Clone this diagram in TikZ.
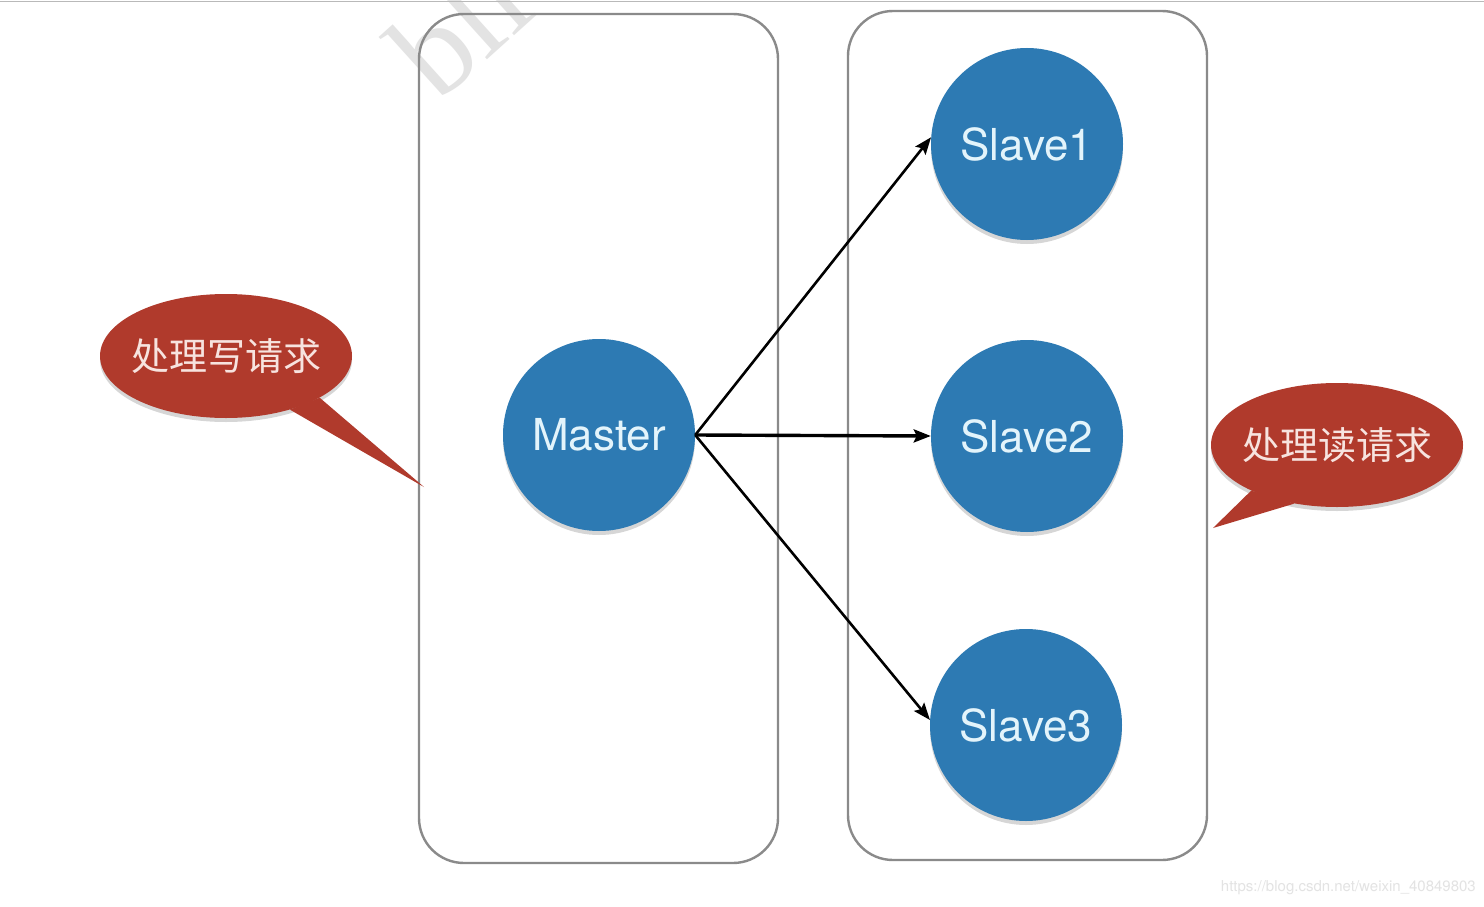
\documentclass[tikz,border=0pt]{standalone}
\usepackage{fontspec}
\newfontfamily\heros{TeX Gyre Heros}
\newfontfamily\cjk{Noto Sans CJK SC}
\newfontfamily\wmserif{Liberation Serif}
\usetikzlibrary{arrows.meta,shapes.geometric,shadows}
\definecolor{nodeblue}{HTML}{2D7AB3}
\definecolor{nodetext}{HTML}{E3F4FB}
\definecolor{bubblered}{HTML}{B03A2C}
\definecolor{bubbletext}{HTML}{F7E3DF}
\definecolor{boxgray}{HTML}{8A8A8A}
\begin{document}
\begin{tikzpicture}[x=1pt,y=-1pt,
  softshadow/.style={drop shadow={shadow xshift=0pt,shadow yshift=-4pt,opacity=0.16,fill=black}},
  panel/.style={draw=boxgray,line width=2.4pt,rounded corners=45pt,minimum width=359pt,minimum height=849pt,inner sep=0pt},
  server/.style={circle,fill=nodeblue,minimum size=192pt,inner sep=0pt,text=nodetext,font=\heros\fontsize{44}{48}\selectfont,softshadow},
  bubble/.style={ellipse,fill=bubblered,minimum width=252pt,minimum height=124pt,inner xsep=-8pt,inner ysep=0pt,text=bubbletext,font=\cjk\fontsize{38}{42}\selectfont,softshadow},
  tailfill/.style={fill=bubblered},
  link/.style={draw=black,line width=2.6pt,-{Stealth[length=17pt,width=13pt,inset=3pt]}},
  watermark/.style={text=gray!22,inner sep=0pt}
]
\useasboundingbox (0,0) rectangle (1484,907);
\fill[white] (0,0) rectangle (1484,907);
% faint watermarks
\node[watermark,rotate=42,anchor=base west,font=\wmserif\fontsize{128}{128}\selectfont] (wmtop) at (438,104) {bli};
\node[watermark,anchor=east,font=\heros\fontsize{15}{17}\selectfont] (wmbottom) at (1476,888) {https://blog.csdn.net/weixin\_40849803};
% top frame line
\coordinate (tl) at (0,1.5);
\coordinate (tr) at (1484,1.5);
\draw[gray!55,line width=1.5pt] (tl) -- (tr);
% panels
\node[panel] (leftbox) at (598.5,438.5) {};
\node[panel] (rightbox) at (1027.5,435.5) {};
% servers
\node[server] (master) at (599,435) {Master};
\node[server] (s1) at (1027,144) {Slave1};
\node[server] (s2) at (1027,436) {Slave2};
\node[server] (s3) at (1026,725) {Slave3};
% links
\draw[link] (master.east) -- (s1.176);
\draw[link,line width=3.4pt] (master.east) -- (s2.west);
\draw[link] (master.east) -- (s3.177);
% callouts
\node[bubble] (lcall) at (226,356) {处理写请求};
\coordinate (ltip) at (424,487);
\fill[tailfill] (lcall.-40) -- (ltip) -- (lcall.-24) -- cycle;
\node[bubble] (rcall) at (1337,445) {处理读请求};
\coordinate (rtip) at (1213,528);
\fill[tailfill] (rcall.208) -- (rtip) -- (rcall.234) -- cycle;
\end{tikzpicture}
\end{document}
